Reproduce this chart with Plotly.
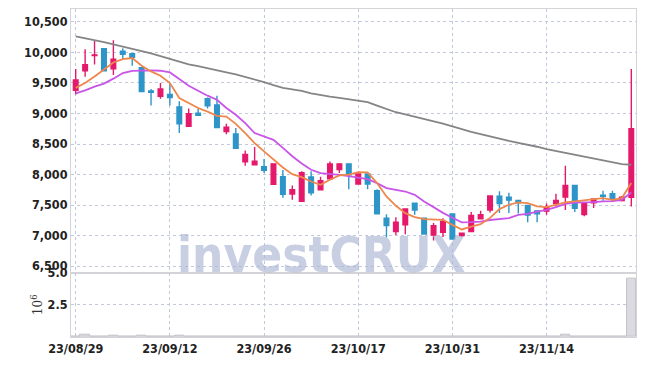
import plotly.graph_objects as go
from plotly.subplots import make_subplots

dates = ["23/08/29","23/08/30","23/08/31","23/09/01","23/09/04","23/09/05","23/09/06","23/09/07","23/09/08","23/09/11",
         "23/09/12","23/09/13","23/09/14","23/09/15","23/09/18","23/09/19","23/09/20","23/09/21","23/09/22","23/09/25",
         "23/09/26","23/09/27","23/10/04","23/10/05","23/10/06","23/10/10","23/10/11","23/10/12","23/10/13","23/10/16",
         "23/10/17","23/10/18","23/10/19","23/10/20","23/10/23","23/10/24","23/10/25","23/10/26","23/10/27","23/10/30",
         "23/10/31","23/11/01","23/11/02","23/11/03","23/11/06","23/11/07","23/11/08","23/11/09","23/11/10","23/11/13",
         "23/11/14","23/11/15","23/11/16","23/11/17","23/11/20","23/11/21","23/11/22","23/11/23","23/11/24","23/11/27"]

open_ = [9380, 9700, 9950, 10060, 9730, 10020, 9980, 9750, 9370, 9280,
         9310, 9105, 8790, 9005, 9240, 9140, 8705, 8665, 8210, 8160,
         8130, 7840, 7965, 7680, 7560, 7960, 7750, 7930, 8080, 8175,
         7845, 8010, 7735, 7285, 7065, 7175, 7530, 7285, 7010, 7055,
         7355, 7000, 7065, 7275, 7420, 7645, 7630, 7575, 7495, 7405,
         7400, 7525, 7630, 7820, 7345, 7535, 7660, 7685, 7575, 7625]
high = [9730, 10050, 10200, 10070, 10200, 10070, 9990, 9760, 9400, 9500,
        9500, 9200, 9080, 9080, 9260, 9290, 8830, 8760, 8395, 8450,
        8255, 8180, 8075, 7820, 8055, 8055, 7965, 8215, 8180, 8180,
        8015, 8020, 7760, 7350, 7300, 7440, 7535, 7290, 7205, 7285,
        7360, 7045, 7385, 7405, 7650, 7725, 7700, 7580, 7500, 7410,
        7525, 7685, 8145, 7825, 7540, 7605, 7735, 7735, 7650, 9730]
low = [9310, 9600, 9800, 9690, 9630, 9890, 9780, 9350, 9130, 9240,
       9130, 8680, 8780, 8960, 9080, 8770, 8660, 8425, 8145, 8155,
       8025, 7835, 7620, 7585, 7555, 7655, 7745, 7925, 8025, 7760,
       7840, 7760, 7350, 6970, 7010, 7020, 7340, 7020, 6920, 6975,
       6940, 6975, 7060, 7270, 7380, 7370, 7370, 7360, 7220, 7220,
       7340, 7475, 7420, 7385, 7315, 7450, 7570, 7560, 7560, 7475]
close = [9550, 9800, 9960, 9700, 9890, 9970, 9920, 9360, 9345, 9400,
         9260, 8830, 8995, 8970, 9125, 8770, 8775, 8430, 8330, 8220,
         8070, 8175, 7675, 7750, 8030, 7700, 7900, 8175, 8175, 7995,
         8010, 7845, 7355, 7165, 7220, 7435, 7420, 7025, 7160, 7230,
         6945, 7040, 7330, 7340, 7650, 7525, 7580, 7535, 7335, 7355,
         7465, 7575, 7820, 7445, 7535, 7600, 7645, 7605, 7630, 8750]

ma_short = [9420, 9498, 9607, 9728, 9836, 9891, 9908, 9782, 9689, 9618,
            9498, 9253, 9171, 9089, 9030, 8960, 8950, 8830, 8679, 8515,
            8378, 8252, 8115, 8006, 7957, 7886, 7832, 7914, 7985, 8000,
            8040, 8034, 7860, 7641, 7488, 7368, 7303, 7270, 7270, 7258,
            7176, 7100, 7148, 7188, 7290, 7434, 7505, 7543, 7533, 7477,
            7467, 7505, 7543, 7559, 7576, 7602, 7614, 7586, 7614, 7860]
ma_mid = [9330, 9377, 9440, 9490, 9570, 9662, 9698, 9705, 9705, 9700,
          9672, 9564, 9454, 9372, 9291, 9225, 9089, 8979, 8842, 8679,
          8630, 8569, 8437, 8300, 8180, 8078, 8023, 8012, 7995, 7975,
          7951, 7924, 7859, 7777, 7750, 7722, 7668, 7559, 7466, 7372,
          7293, 7217, 7220, 7230, 7255, 7270, 7286, 7340, 7356, 7394,
          7422, 7466, 7520, 7542, 7542, 7548, 7559, 7565, 7586, 7705]
ma_long = [10262, 10235, 10205, 10170, 10130, 10090, 10055, 10020, 9985, 9940,
           9885, 9845, 9805, 9775, 9745, 9710, 9675, 9640, 9600, 9555,
           9515, 9465, 9420, 9395, 9370, 9330, 9300, 9275, 9255, 9230,
           9210, 9185, 9130, 9080, 9020, 8985, 8950, 8915, 8880, 8835,
           8790, 8740, 8700, 8660, 8620, 8580, 8550, 8520, 8490, 8455,
           8415, 8385, 8350, 8320, 8290, 8260, 8230, 8200, 8170, 8160]
volume = [0.04e6, 0.21e6, 0.01e6, 0.01e6, 0.10e6, 0.01e6, 0.01e6, 0.10e6, 0.01e6, 0.01e6,
          0.01e6, 0.12e6, 0.01e6, 0.01e6, 0.06e6, 0.06e6, 0.06e6, 0.06e6, 0.01e6, 0.01e6,
          0.06e6, 0.01e6, 0.06e6, 0.06e6, 0.06e6, 0.06e6, 0.01e6, 0.01e6, 0.01e6, 0.01e6,
          0.01e6, 0.01e6, 0.06e6, 0.06e6, 0.06e6, 0.01e6, 0.01e6, 0.01e6, 0.06e6, 0.01e6,
          0.01e6, 0.06e6, 0.06e6, 0.01e6, 0.06e6, 0.06e6, 0.01e6, 0.01e6, 0.06e6, 0.01e6,
          0.01e6, 0.01e6, 0.20e6, 0.06e6, 0.01e6, 0.01e6, 0.01e6, 0.01e6, 0.01e6, 4.59e6]

price_ticks = [6500, 7000, 7500, 8000, 8500, 9000, 9500, 10000, 10500]
vol_ticks = [2.5e6, 5.0e6]
vol_ticktext = ["2.5", "5.0"]
x_tick_idx = [0, 10, 20, 30, 40, 50]

UP = "#e5196b"
DOWN = "#2e95c9"
GRID = "#c3c8dc"
LINE = "#d4d4d8"
FONT = "DejaVu Sans Condensed, DejaVu Sans, Roboto, sans-serif"
tickfont = dict(family=FONT, size=12.5, color="#222222", weight="bold")

fig = make_subplots(rows=2, cols=1, shared_xaxes=True, vertical_spacing=0,
                    row_heights=[0.8038, 0.1962])

fig.add_trace(go.Candlestick(x=dates, open=open_, high=high, low=low, close=close,
                             increasing=dict(line=dict(color=UP, width=1.4), fillcolor=UP),
                             decreasing=dict(line=dict(color=DOWN, width=1.4), fillcolor=DOWN),
                             showlegend=False), row=1, col=1)
fig.add_trace(go.Scatter(x=dates, y=ma_long, mode="lines", line=dict(color="#858585", width=1.8),
                         showlegend=False), row=1, col=1)
fig.add_trace(go.Scatter(x=dates, y=ma_mid, mode="lines", line=dict(color="#c955e8", width=1.8),
                         showlegend=False), row=1, col=1)
fig.add_trace(go.Scatter(x=dates, y=ma_short, mode="lines", line=dict(color="#ef864b", width=1.8),
                         showlegend=False), row=1, col=1)
fig.add_trace(go.Bar(x=dates, y=volume, marker=dict(color="#dadae0", line=dict(color="#c4c4cc", width=1)),
                     showlegend=False), row=2, col=1)

fig.update_layout(width=645, height=366, margin=dict(l=71, r=9, t=9, b=29, autoexpand=False),
                  paper_bgcolor="white", plot_bgcolor="white", bargap=0,
                  xaxis_rangeslider_visible=False)

xcommon = dict(type="category", range=[-0.5, 59.5], autorange=False, showgrid=True, gridcolor=GRID,
               griddash="dot", gridwidth=1, tickvals=[dates[i] for i in x_tick_idx], ticks="",
               showline=True, linecolor=LINE, mirror=True, tickfont=tickfont, zeroline=False,
               automargin=False)
fig.update_xaxes(**xcommon)
fig.update_xaxes(showticklabels=False, row=1, col=1)
fig.update_xaxes(showticklabels=True, row=2, col=1)

fig.update_yaxes(range=[6393, 10711], tickvals=price_ticks, tickformat=",d", showgrid=True,
                 gridcolor=GRID, griddash="dot", ticks="", showline=True, linecolor=LINE,
                 mirror=True, tickfont=tickfont, zeroline=False, automargin=False, row=1, col=1)
fig.update_yaxes(range=[0, 5.02e6], tickvals=vol_ticks, ticktext=vol_ticktext, showgrid=True,
                 gridcolor=GRID, griddash="dot", ticks="", showline=True, linecolor=LINE,
                 mirror=True, tickfont=tickfont, zeroline=False, automargin=False,
                 title=dict(text="10<sup>6</sup>", font=dict(family="DejaVu Serif", size=12, color="#333"),
                            standoff=2), row=2, col=1)

fig.add_annotation(text="investCRUX", xref="paper", yref="paper",
                   x=0.444, y=0.25, xanchor="center", yanchor="middle", showarrow=False,
                   font=dict(family=FONT, size=49, color="rgba(170,182,212,0.65)", weight="bold"))

fig.write_html("out.html", config={"displayModeBar": False},
               post_script="document.body.style.margin='0';document.body.style.padding='0';")
